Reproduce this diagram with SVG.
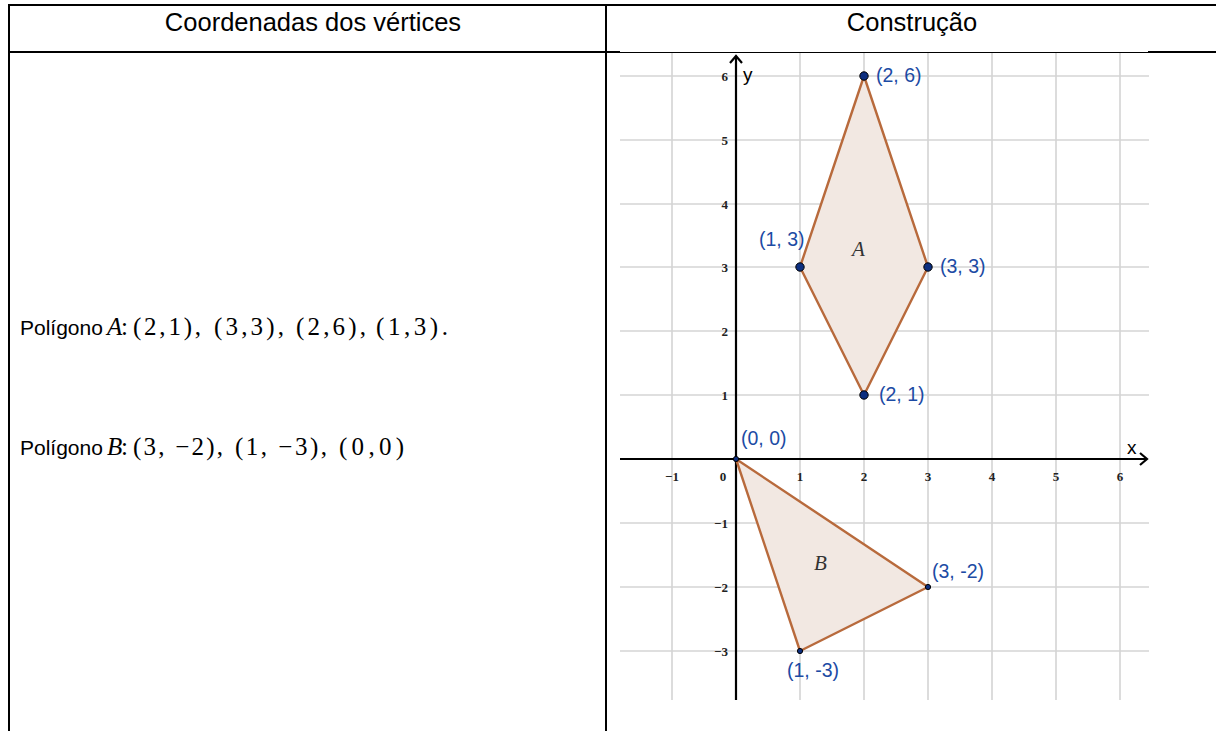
<svg xmlns="http://www.w3.org/2000/svg" width="1216" height="731" viewBox="0 0 1216 731">
<style>
.tb{stroke:#000;stroke-width:2;fill:none}
.hd{font-family:"Liberation Sans",Arial,sans-serif;font-size:25.5px;fill:#000}
.lt{font-family:"Liberation Sans",Arial,sans-serif;font-size:21px;fill:#000}
.mt{font-family:"Liberation Serif","Times New Roman",serif;font-size:25px;fill:#000}
.grid{stroke:#d4d4d4;stroke-width:1.6}
.ax{stroke:#000;stroke-width:2.2;fill:none}
.tk{font-family:"Liberation Serif","Times New Roman",serif;font-size:13px;font-weight:bold;fill:#222}
.poly{fill:#f2e8e2;stroke:#b86a3c;stroke-width:2.4;stroke-linejoin:round}
.pt{fill:#0d2f80;stroke:#000;stroke-width:1}
.pl{font-family:"Liberation Sans",Arial,sans-serif;font-size:19.5px;fill:#1c4ba4}
.axl{font-family:"Liberation Sans",Arial,sans-serif;font-size:19px;fill:#000}
.nm{font-family:"Liberation Serif","Times New Roman",serif;font-style:italic;font-size:21px;fill:#333}
</style>
<rect width="1216" height="731" fill="#fff"/>
<g id="table">
<line class="tb" x1="8" y1="5" x2="1216" y2="5"/>
<line class="tb" x1="9" y1="4" x2="9" y2="731"/>
<line class="tb" x1="606" y1="4" x2="606" y2="731"/>
<line class="tb" x1="8" y1="52" x2="620" y2="52"/>
<line class="tb" x1="1148" y1="52" x2="1216" y2="52"/>
<line stroke="#000" stroke-width="1" x1="620" y1="52.5" x2="1148" y2="52.5"/>
<text class="hd" x="313" y="31" text-anchor="middle">Coordenadas dos vértices</text>
<text class="hd" x="912" y="31" text-anchor="middle">Construção</text>
</g>
<g id="text-left">
<text class="lt" x="20" y="335">Polígono</text>
<text class="mt" y="335"><tspan x="107" font-style="italic">A</tspan><tspan x="121">:</tspan><tspan x="133" textLength="68" lengthAdjust="spacing">(2,1),</tspan><tspan x="214" textLength="70" lengthAdjust="spacing">(3,3),</tspan><tspan x="296" textLength="70" lengthAdjust="spacing">(2,6),</tspan><tspan x="376" textLength="72" lengthAdjust="spacing">(1,3).</tspan></text>
<text class="lt" x="20" y="455">Polígono</text>
<text class="mt" y="455"><tspan x="107" font-style="italic">B</tspan><tspan x="121">:</tspan><tspan x="133" textLength="90" lengthAdjust="spacing">(3, −2),</tspan><tspan x="235" textLength="92" lengthAdjust="spacing">(1, −3),</tspan><tspan x="339" textLength="65" lengthAdjust="spacing">(0,0)</tspan></text>
</g>
<g id="graph">
<g id="grid">
<line class="grid" x1="672" y1="53" x2="672" y2="700"/>
<line class="grid" x1="800" y1="53" x2="800" y2="700"/>
<line class="grid" x1="864" y1="53" x2="864" y2="700"/>
<line class="grid" x1="928" y1="53" x2="928" y2="700"/>
<line class="grid" x1="992" y1="53" x2="992" y2="700"/>
<line class="grid" x1="1056" y1="53" x2="1056" y2="700"/>
<line class="grid" x1="1120" y1="53" x2="1120" y2="700"/>
<line class="grid" x1="620" y1="76" x2="1149" y2="76"/>
<line class="grid" x1="620" y1="140" x2="1149" y2="140"/>
<line class="grid" x1="620" y1="204" x2="1149" y2="204"/>
<line class="grid" x1="620" y1="267" x2="1149" y2="267"/>
<line class="grid" x1="620" y1="331" x2="1149" y2="331"/>
<line class="grid" x1="620" y1="395" x2="1149" y2="395"/>
<line class="grid" x1="620" y1="523" x2="1149" y2="523"/>
<line class="grid" x1="620" y1="587" x2="1149" y2="587"/>
<line class="grid" x1="620" y1="651" x2="1149" y2="651"/>
</g>
<g id="axes">
<line class="ax" x1="736" y1="700" x2="736" y2="57"/>
<polyline class="ax" points="730,63 736,56 742,63"/>
<line class="ax" x1="620" y1="459" x2="1147" y2="459"/>
<polyline class="ax" points="1140,453 1147,459 1140,465"/>
<text class="axl" x="743" y="81">y</text>
<text class="axl" x="1127" y="454">x</text>
</g>
<g id="ticks">
<text class="tk" x="728" y="81" text-anchor="end">6</text>
<text class="tk" x="728" y="145" text-anchor="end">5</text>
<text class="tk" x="728" y="209" text-anchor="end">4</text>
<text class="tk" x="728" y="272" text-anchor="end">3</text>
<text class="tk" x="728" y="336" text-anchor="end">2</text>
<text class="tk" x="728" y="400" text-anchor="end">1</text>
<text class="tk" x="728" y="528" text-anchor="end">−1</text>
<text class="tk" x="728" y="592" text-anchor="end">−2</text>
<text class="tk" x="728" y="656" text-anchor="end">−3</text>
<text class="tk" x="672" y="481" text-anchor="middle">−1</text>
<text class="tk" x="723" y="481" text-anchor="middle">0</text>
<text class="tk" x="800" y="481" text-anchor="middle">1</text>
<text class="tk" x="864" y="481" text-anchor="middle">2</text>
<text class="tk" x="928" y="481" text-anchor="middle">3</text>
<text class="tk" x="992" y="481" text-anchor="middle">4</text>
<text class="tk" x="1056" y="481" text-anchor="middle">5</text>
<text class="tk" x="1120" y="481" text-anchor="middle">6</text>
</g>
<g id="polygon-A">
<polygon class="poly" points="864,395 928,267 864,76 800,267"/>
<text class="nm" x="852" y="256">A</text>
</g>
<g id="polygon-B">
<polygon class="poly" points="736,459 928,587 800,651"/>
<text class="nm" x="814" y="570">B</text>
</g>
<g id="points">
<circle class="pt" cx="864" cy="76" r="4.2"/>
<circle class="pt" cx="928" cy="267" r="4.2"/>
<circle class="pt" cx="800" cy="267" r="4.2"/>
<circle class="pt" cx="864" cy="395" r="4.2"/>
<circle class="pt" cx="736" cy="459" r="2.6"/>
<circle class="pt" cx="928" cy="587" r="2.6"/>
<circle class="pt" cx="800" cy="651" r="2.6"/>
<text class="pl" x="876" y="82">(2, 6)</text>
<text class="pl" x="759" y="246">(1, 3)</text>
<text class="pl" x="940" y="273">(3, 3)</text>
<text class="pl" x="879" y="401">(2, 1)</text>
<text class="pl" x="741" y="445">(0, 0)</text>
<text class="pl" x="932" y="578">(3, -2)</text>
<text class="pl" x="787" y="677">(1, -3)</text>
</g>
</g>
</svg>
